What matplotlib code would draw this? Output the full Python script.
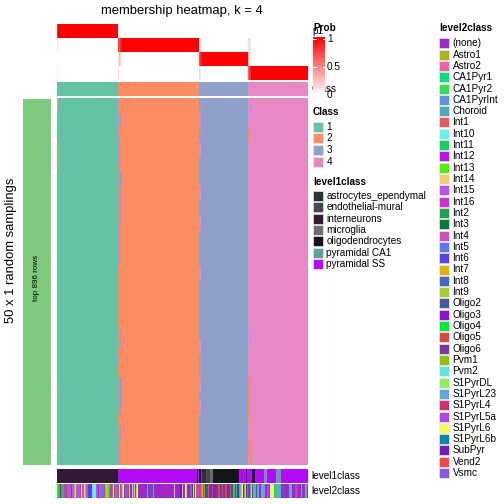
import numpy as np
import matplotlib
matplotlib.use("Agg")
import matplotlib.pyplot as plt
from matplotlib.colors import ListedColormap, LinearSegmentedColormap
from matplotlib.patches import Rectangle

plt.rcParams['font.family'] = ['Liberation Sans', 'DejaVu Sans']

W = H = 504  # figure size in pixels (7in at 72 dpi)

# ---- data ----
n_rows = 50
class_labels = ['1', '2', '3', '4']
class_sizes = [61, 81, 49, 60]
class_colors = ['#66C2A5', '#FC8D62', '#8DA0CB', '#E78AC3']

# columns where membership probability is not a clean 1/0: col -> (p1, p2, p3, p4)
prob_exceptions = {
    0: (0.85, 0.10, 0.00, 0.05),
    61: (0.00, 0.75, 0.10, 0.15),
    62: (0.00, 0.70, 0.30, 0.00),
    63: (0.00, 0.85, 0.15, 0.00),
    64: (0.00, 0.90, 0.10, 0.00),
    142: (0.00, 0.15, 0.70, 0.15),
    143: (0.00, 0.05, 0.85, 0.10),
    144: (0.00, 0.10, 0.90, 0.00),
    191: (0.00, 0.15, 0.25, 0.60),
    192: (0.00, 0.15, 0.05, 0.80),
    193: (0.00, 0.10, 0.10, 0.80),
}

# sampling rows that disagree with the consensus: (row_from, row_to, col_from, col_to, class)
member_exceptions = [
    (0, 2, 0, 1, 4), (6, 10, 0, 1, 2), (39, 40, 0, 1, 2), (47, 48, 0, 1, 2),
    (0, 6, 61, 62, 4), (2, 4, 62, 64, 3), (5, 10, 62, 63, 3), (10, 17, 62, 64, 3),
    (10, 12, 64, 65, 3), (16, 23, 62, 63, 3), (31, 33, 64, 65, 3), (33, 34, 62, 64, 3),
    (35, 36, 62, 63, 3), (38, 42, 62, 65, 3), (42, 43, 62, 64, 3), (44, 45, 64, 65, 3),
    (45, 47, 62, 64, 3), (47, 50, 62, 63, 3),
    (2, 4, 142, 144, 4), (6, 8, 142, 144, 4), (12, 14, 142, 144, 4), (16, 18, 142, 144, 4),
    (23, 25, 142, 144, 4), (33, 35, 142, 144, 4), (38, 40, 142, 144, 4), (41, 43, 142, 144, 4),
    (1, 2, 144, 145, 2), (4, 5, 144, 145, 2), (35, 38, 144, 145, 2),
    (1, 2, 193, 194, 3), (4, 6, 191, 193, 2), (32, 33, 193, 194, 3), (38, 44, 191, 193, 2),
    (44, 47, 193, 194, 2), (47, 50, 191, 194, 2), (49, 50, 194, 195, 3),
]

level1_names = ['astrocytes_ependymal', 'endothelial-mural', 'interneurons', 'microglia',
                'oligodendrocytes', 'pyramidal CA1', 'pyramidal SS']
level1_colors = ['#263530', '#4A4550', '#351A35', '#6B6E70', '#141618', '#5FA0A0', '#B40AF8']
level1_runs = [
    ('interneurons', 61), ('pyramidal SS', 79), ('interneurons', 1), ('pyramidal SS', 1),
    ('oligodendrocytes', 2), ('pyramidal SS', 1), ('astrocytes_ependymal', 4),
    ('endothelial-mural', 4), ('microglia', 3), ('oligodendrocytes', 26), ('pyramidal SS', 7),
    ('oligodendrocytes', 1), ('pyramidal SS', 5), ('oligodendrocytes', 3), ('pyramidal SS', 9),
    ('pyramidal CA1', 3), ('pyramidal SS', 9), ('pyramidal CA1', 5), ('pyramidal SS', 27),
]

level2_names = ['(none)', 'Astro1', 'Astro2', 'CA1Pyr1', 'CA1Pyr2', 'CA1PyrInt', 'Choroid',
                'Int1', 'Int10', 'Int11', 'Int12', 'Int13', 'Int14', 'Int15', 'Int16', 'Int2',
                'Int3', 'Int4', 'Int5', 'Int6', 'Int7', 'Int8', 'Int9', 'Oligo2', 'Oligo3',
                'Oligo4', 'Oligo5', 'Oligo6', 'Pvm1', 'Pvm2', 'S1PyrDL', 'S1PyrL23', 'S1PyrL4',
                'S1PyrL5a', 'S1PyrL6', 'S1PyrL6b', 'SubPyr', 'Vend2', 'Vsmc']
level2_colors = ['#A526C8', '#A4B81C', '#F062A0', '#00E07A', '#30E050', '#5F90E0', '#4AABB8',
                 '#E05A60', '#6AF0E8', '#14D060', '#C010E8', '#50F000', '#E8D070', '#B850F0',
                 '#D030D0', '#20A050', '#087838', '#D050C0', '#5878F8', '#5840F0', '#E0B010',
                 '#4868C0', '#A0D030', '#4858A0', '#9010D0', '#00E838', '#D84C40', '#7838A0',
                 '#90C010', '#58E8E0', '#90F060', '#60A8D8', '#D03070', '#B048E8', '#F8F858',
                 '#0888A8', '#7818B8', '#F04848', '#8858E0']
level2_runs = [
    # class 1
    ('Int13', 1), ('Int11', 2), ('Int3', 1), ('Int4', 2), ('Int11', 1), ('Int16', 2), ('Int2', 1),
    ('Int1', 1), ('Int15', 3), ('Int12', 1), ('Int4', 2), ('Int13', 1), ('Int14', 1), ('Int15', 4),
    ('Int16', 1), ('Int14', 1), ('Int4', 2), ('Int14', 1), ('Int9', 1), ('Int15', 2), ('Int6', 4),
    ('Int10', 4), ('Int15', 2), ('Int12', 1), ('Int4', 2), ('Int5', 3), ('Int16', 1), ('Int7', 1),
    ('Int9', 2), ('Int13', 1), ('Int11', 1), ('Int16', 2), ('Int4', 1), ('Int14', 1), ('Int2', 1),
    ('Int1', 1), ('Int15', 2),
    # class 2
    ('S1PyrL4', 1), ('S1PyrL6', 1), ('S1PyrL5a', 2), ('S1PyrDL', 1), ('S1PyrL6', 1), ('(none)', 1),
    ('S1PyrL5a', 3), ('S1PyrL4', 1), ('S1PyrDL', 1), ('(none)', 2), ('S1PyrDL', 1), ('S1PyrL5a', 1),
    ('S1PyrDL', 1), ('(none)', 1), ('S1PyrDL', 1), ('S1PyrL6', 1), ('(none)', 9), ('S1PyrL23', 1),
    ('(none)', 2), ('S1PyrL6b', 1), ('(none)', 2), ('S1PyrL23', 1), ('(none)', 20), ('S1PyrDL', 1),
    ('(none)', 5), ('SubPyr', 2), ('S1PyrDL', 1), ('(none)', 2), ('S1PyrL6', 1), ('S1PyrDL', 1),
    ('(none)', 3), ('S1PyrL5a', 2), ('Int3', 1), ('S1PyrDL', 1), ('S1PyrL4', 1), ('S1PyrL6', 1),
    ('S1PyrL5a', 3),
    # class 3
    ('Oligo5', 2), ('Astro2', 1), ('Int7', 1), ('Oligo5', 1), ('Oligo4', 1), ('Int3', 1),
    ('Oligo6', 2), ('Vend2', 1), ('Oligo6', 3), ('Oligo5', 1), ('Oligo3', 2), ('Oligo6', 3),
    ('Oligo5', 2), ('Oligo6', 2), ('Vend2', 1), ('Oligo6', 2), ('Oligo5', 2), ('Oligo3', 1),
    ('Oligo6', 2), ('Oligo5', 1), ('Oligo6', 2), ('Oligo4', 2), ('Oligo2', 1), ('Oligo4', 1),
    ('Oligo3', 2), ('Choroid', 1), ('Astro1', 1), ('Pvm2', 1), ('S1PyrL6', 1), ('Oligo3', 1),
    ('Pvm1', 1), ('S1PyrDL', 1), ('Oligo2', 1), ('Vsmc', 1),
    # class 4
    ('(none)', 2), ('CA1PyrInt', 1), ('S1PyrDL', 1), ('(none)', 1), ('CA1Pyr2', 1), ('S1PyrL23', 2),
    ('(none)', 1), ('CA1Pyr1', 1), ('S1PyrL23', 1), ('(none)', 2), ('S1PyrL23', 4), ('(none)', 2),
    ('S1PyrL5a', 2), ('(none)', 1), ('S1PyrL6', 4), ('CA1Pyr1', 2), ('CA1Pyr2', 1), ('S1PyrL23', 4),
    ('(none)', 2), ('S1PyrL6b', 1), ('(none)', 5), ('S1PyrL23', 3), ('(none)', 3), ('S1PyrL5a', 2),
    ('S1PyrL4', 1), ('(none)', 3), ('S1PyrL23', 1), ('(none)', 2), ('S1PyrL4', 1), ('S1PyrL23', 2),
    ('(none)', 1),
]

# ---- build matrices ----
col_class = np.repeat(np.arange(4), class_sizes)
n_cols = len(col_class)

prob = np.zeros((4, n_cols))
prob[col_class, np.arange(n_cols)] = 1.0
for c, p in prob_exceptions.items():
    prob[:, c] = p

member = np.tile(col_class, (n_rows, 1))
for r0, r1, c0, c1, k in member_exceptions:
    member[r0:r1, c0:c1] = k - 1


def expand(runs, names):
    return np.concatenate([np.full(n, names.index(lab)) for lab, n in runs])


lvl1 = expand(level1_runs, level1_names)
lvl2 = expand(level2_runs, level2_names)

prob_cmap = LinearSegmentedColormap.from_list('prob', ['#FFFFFF', '#FF0000'])
class_cmap = ListedColormap(class_colors)


# ---- layout helpers ----
fig = plt.figure(figsize=(7, 7), dpi=72)


def add_ax(x0, y0, x1, y1):
    a = fig.add_axes([x0 / W, 1 - y1 / H, (x1 - x0) / W, (y1 - y0) / H])
    a.set_axis_off()
    return a


def show(a, data, cmap, vmin, vmax):
    a.imshow(data, cmap=cmap, vmin=vmin, vmax=vmax, aspect='auto', interpolation='nearest')


X0, X1 = 57, 308

# top probability rows
for i in range(4):
    a = add_ax(X0, 24 + i * 14, X1, 38 + i * 14)
    show(a, prob[i:i + 1], prob_cmap, 0, 1)
a = add_ax(X0, 82, X1, 96)
show(a, col_class[None, :], class_cmap, 0, 3)

# main heatmap
a = add_ax(X0, 98, X1, 465)
show(a, member, class_cmap, 0, 3)

# bottom annotations
a = add_ax(X0, 469, X1, 483)
show(a, lvl1[None, :], ListedColormap(level1_colors), 0, len(level1_names) - 1)
a = add_ax(X0, 484, X1, 498)
show(a, lvl2[None, :], ListedColormap(level2_colors), 0, len(level2_names) - 1)

# overlay axes in pixel coordinates for text and legends
ov = fig.add_axes([0, 0, 1, 1])
ov.set_axis_off()
ov.set_zorder(10)
ov.patch.set_alpha(0)

ov.add_patch(Rectangle((23, 99), 28, 366, color='#7FC97F', lw=0))
ov.text(37, 278, 'top 896 rows', rotation=90, ha='center', va='center', fontsize=8)
ov.text(11, 250, '50 x 1 random samplings', rotation=90, ha='center', va='center', fontsize=13)
ov.text(182, 11, 'membership heatmap, k = 4', ha='center', va='center', fontsize=13)

for lab, y in zip(['p1', 'p2', 'p3', 'p4', 'Class'], [31, 45, 59, 73, 89]):
    ov.text(312, y, lab, ha='left', va='center', fontsize=10)
ov.text(311, 476, 'level1class', ha='left', va='center', fontsize=10)
ov.text(311, 491, 'level2class', ha='left', va='center', fontsize=10)

# Prob colour bar
ov.text(313, 28, 'Prob', ha='left', va='center', fontsize=10, fontweight='bold', zorder=6)
grad = np.linspace(1, 0, 100)[:, None]
ov.imshow(grad, cmap=prob_cmap, vmin=0, vmax=1, extent=(313, 325, 95, 37),
          aspect='auto', zorder=5, interpolation='bilinear')
for v, y in [('1', 39), ('0.5', 67), ('0', 95)]:
    ov.plot([313, 315.5], [y, y], color='white', lw=1, zorder=6)
    ov.plot([322.5, 325], [y, y], color='white', lw=1, zorder=6)
    ov.text(327, y, v, ha='left', va='center', fontsize=10, zorder=6)


def legend(x, y_title, y_first, step, title, labels, colors):
    ov.text(x, y_title, title, ha='left', va='center', fontsize=10, fontweight='bold')
    for i, (lab, col) in enumerate(zip(labels, colors)):
        yb = y_first + i * step
        ov.add_patch(Rectangle((x, yb), 10, 10, facecolor=col, edgecolor='#EEEEEE', lw=0.6))
        ov.text(x + 13.5, yb + 5, lab, ha='left', va='center', fontsize=10)


legend(313, 112, 121.5, 11.7, 'Class', class_labels, class_colors)
legend(313, 182, 191, 11.3, 'level1class', level1_names, level1_colors)
legend(439, 28, 38.3, 11.31, 'level2class', level2_names, level2_colors)

ov.set_xlim(0, W)
ov.set_ylim(H, 0)

fig.savefig('out.png', dpi=72)
